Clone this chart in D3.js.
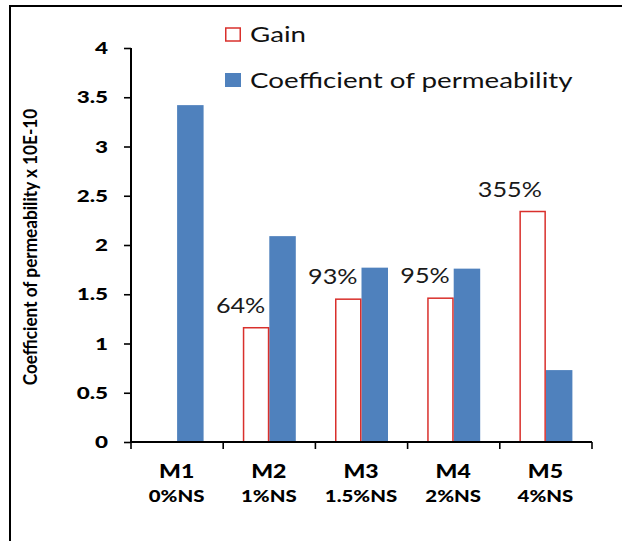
<!DOCTYPE html>
<html>
<head>
<meta charset="utf-8">
<script src="https://cdn.jsdelivr.net/npm/d3@7"></script>
<style>
  html, body { margin: 0; padding: 0; background: #fff; }
  svg { display: block; }
  text { font-family: Lato, "Open Sans", sans-serif; }
</style>
</head>
<body>
<svg id="chart" width="622" height="541"></svg>
<script>
// Mixes and their nano-silica content
const categories = ["M1", "M2", "M3", "M4", "M5"];
const subLabels = ["0%NS", "1%NS", "1.5%NS", "2%NS", "4%NS"];
// Coefficient of permeability (x 10E-10)
const permeability = [3.42, 2.09, 1.77, 1.76, 0.73];
// Gain bars (outlined) and their percentage labels
const gainHeight = [null, 1.16, 1.45, 1.46, 2.34];
const gainLabels = ["", "64%", "93%", "95%", "355%"];
// Left axis ticks
const yTicks = [0, 0.5, 1, 1.5, 2, 2.5, 3, 3.5, 4];
const yTickLabels = ["0", "0.5", "1", "1.5", "2", "2.5", "3", "3.5", "4"];
const seriesNames = ["Gain", "Coefficient of permeability"];

const BLUE = "#4f81bd";
const RED = "#d9302c";

const svg = d3.select("#chart");

// outer frame (left and top edges)
svg.append("path")
  .attr("d", "M10,541V6H622")
  .attr("fill", "none")
  .attr("stroke", "#000")
  .attr("stroke-width", 2);

const plot = { left: 131, right: 592, top: 48, bottom: 442 };

const x = d3.scaleBand().domain(categories).range([plot.left, plot.right]).padding(0);
const xs = d3.scaleBand().domain(["gain", "perm"]).range([0, x.bandwidth()])
  .paddingInner(0).paddingOuter(0.74);
const y = d3.scaleLinear().domain([0, 4]).range([plot.bottom, plot.top]);

// helper: place a horizontally stretched text label
function label(g, tx, ty, str, opts) {
  return g.append("g")
    .attr("transform", `translate(${tx},${ty}) scale(${opts.sx},1)` + (opts.rotate ? ` rotate(${opts.rotate})` : ""))
    .append("text")
    .attr("text-anchor", opts.anchor || "middle")
    .attr("font-size", opts.size)
    .attr("font-weight", opts.weight || "normal")
    .attr("fill", opts.fill || "#000")
    .text(str);
}

// bars: permeability (filled)
const bars = svg.append("g");
bars.selectAll("rect.perm")
  .data(categories)
  .join("rect")
  .attr("class", "perm")
  .attr("x", d => x(d) + xs("perm"))
  .attr("width", xs.bandwidth())
  .attr("y", (d, i) => y(permeability[i]))
  .attr("height", (d, i) => y(0) - y(permeability[i]))
  .attr("fill", BLUE);

// bars: gain (outlined)
const gainIdx = categories.map((d, i) => i).filter(i => gainHeight[i] != null);
bars.selectAll("rect.gain")
  .data(gainIdx)
  .join("rect")
  .attr("class", "gain")
  .attr("x", i => x(categories[i]) + xs("gain") + 0.75)
  .attr("width", xs.bandwidth() - 1.5)
  .attr("y", i => y(gainHeight[i]))
  .attr("height", i => y(0) - y(gainHeight[i]))
  .attr("fill", "#fff")
  .attr("stroke", RED)
  .attr("stroke-width", 1.5);

// gain percentage labels
const lbl = svg.append("g");
gainIdx.forEach(i => {
  const right = x(categories[i]) + xs("gain") + xs.bandwidth() - 4;
  label(lbl, right, y(gainHeight[i]) - 15, gainLabels[i],
    { size: 21, anchor: "end", fill: "#1a1a1a", sx: 1.2 });
});

// y axis
const yAxis = svg.append("g").attr("transform", `translate(${plot.left},0)`)
  .call(d3.axisLeft(y).tickValues(yTicks).tickSize(7).tickFormat(""));
yAxis.select(".domain").attr("stroke", "#000").attr("stroke-width", 2)
  .attr("d", `M0,${plot.top}H0V${plot.bottom}`);
yAxis.selectAll(".tick line").attr("stroke", "#000").attr("stroke-width", 1.6);

const yl = svg.append("g");
yTicks.forEach((v, i) => {
  label(yl, 108, y(v) + 6, yTickLabels[i], { size: 16.5, weight: "900", anchor: "end", sx: 1.36 });
});

// x axis
const xAxis = svg.append("g").attr("transform", `translate(0,${plot.bottom})`);
xAxis.append("line")
  .attr("x1", plot.left).attr("x2", plot.right)
  .attr("stroke", "#000").attr("stroke-width", 2);
const bounds = categories.map(c => x(c)).concat([plot.right]);
xAxis.selectAll("line.tick")
  .data(bounds)
  .join("line")
  .attr("class", "tick")
  .attr("x1", d => d).attr("x2", d => d)
  .attr("y1", 0).attr("y2", 7)
  .attr("stroke", "#000").attr("stroke-width", 1.6);

const xl = svg.append("g");
categories.forEach((c, i) => {
  const cx = x(c) + x.bandwidth() / 2 - 0.5;
  label(xl, cx, 478, c, { size: 19.5, weight: "900", sx: 1.18 });
  label(xl, cx, 502, subLabels[i], { size: 17, weight: "900", sx: 1.2 });
});

// y axis title
label(svg, 37, 247, "Coefficient of permeability x 10E-10",
  { size: 17.2, weight: "bold", rotate: -90, sx: 1.15 });

// legend
const legend = svg.append("g");
legend.append("rect")
  .attr("x", 225.75).attr("y", 28).attr("width", 14.5).attr("height", 13)
  .attr("fill", "#fff").attr("stroke", RED).attr("stroke-width", 1.5);
legend.append("rect")
  .attr("x", 225).attr("y", 73).attr("width", 16).attr("height", 14)
  .attr("fill", BLUE);
label(legend, 250, 42, seriesNames[0], { size: 21, anchor: "start", fill: "#111", sx: 1.32 });
label(legend, 250, 88, seriesNames[1], { size: 21, anchor: "start", fill: "#111", sx: 1.32 });
</script>
</body>
</html>
